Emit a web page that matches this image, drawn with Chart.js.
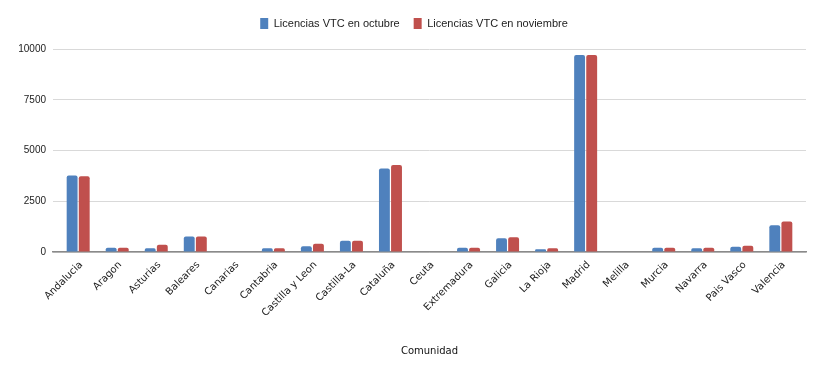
<!DOCTYPE html>
<html>
<head>
<meta charset="utf-8">
<script src="https://cdn.jsdelivr.net/npm/chart.js@4"></script>
<style>
    html, body { margin: 0; padding: 0; background: #ffffff; }
    #wrap { width: 825px; height: 377px; position: relative; }
</style>
</head>
<body>
<div id="wrap"><canvas id="chart"></canvas></div>
<script>
// 데이터
const comunidades = [
    'Andalucia', 'Aragon', 'Asturias', 'Baleares', 'Canarias', 'Cantabria',
    'Castilla y Leon', 'Castilla-La', 'Cataluña', 'Ceuta', 'Extremadura',
    'Galicia', 'La Rioja', 'Madrid', 'Melilla', 'Murcia', 'Navarra',
    'Pais Vasco', 'Valencia'
];
const octubre = [3770, 210, 180, 760, 0, 180, 280, 550, 4110, 0, 210, 680, 130, 9710, 0, 210, 180, 260, 1320];
const noviembre = [3730, 210, 360, 760, 0, 180, 410, 550, 4290, 0, 210, 730, 180, 9710, 0, 210, 210, 310, 1500];
const yTicks = [0, 2500, 5000, 7500, 10000];

const colorBlue = '#4f81bd';
const colorRed = '#c0504d';

// 범례: 아래 여백 추가 + 가로 위치 보정
const legendTweak = {
    id: 'legendTweak',
    beforeInit(chart) {
        const fit = chart.legend.fit;
        chart.legend.fit = function () {
            fit.bind(chart.legend)();
            this.height += 10;
        };
    },
    afterLayout(chart) {
        chart.legend.left += 11;
        chart.legend.right += 11;
    }
};

new Chart(document.getElementById('chart'), {
    type: 'bar',
    data: {
        labels: comunidades,
        datasets: [
            { label: 'Licencias VTC en octubre', data: octubre, backgroundColor: colorBlue, borderRadius: 2, borderSkipped: 'bottom' },
            { label: 'Licencias VTC en noviembre', data: noviembre, backgroundColor: colorRed, borderRadius: 2, borderSkipped: 'bottom' }
        ]
    },
    plugins: [legendTweak],
    options: {
        responsive: true,
        maintainAspectRatio: false,
        animation: false,
        datasets: { bar: { categoryPercentage: 0.62, barPercentage: 0.9 } },
        layout: { padding: { top: 4, right: 19, left: 0, bottom: 16 } },
        plugins: {
            legend: {
                position: 'top',
                labels: {
                    boxWidth: 8, boxHeight: 11, padding: 14,
                    color: '#222',
                    font: { family: '"Liberation Sans", sans-serif', size: 11 }
                }
            },
            tooltip: { enabled: false }
        },
        scales: {
            x: {
                grid: { display: false, drawTicks: false },
                border: { color: '#8a8a8a', width: 1.5 },
                ticks: {
                    maxRotation: 45, minRotation: 45, autoSkip: false, padding: 7, labelOffset: 3,
                    color: '#222',
                    font: { family: '"DejaVu Sans", sans-serif', size: 10 }
                },
                title: {
                    display: true, text: 'Comunidad', color: '#111',
                    font: { family: '"DejaVu Sans", sans-serif', size: 10 }
                },
                // 양쪽 끝에 약간의 여백
                afterBuildTicks: (scale) => {
                    const e = 0.145;
                    scale._startValue = -0.5 - e;
                    scale._valueRange = comunidades.length + 2 * e;
                },
                afterFit: (scale) => { scale.height = 109; }
            },
            y: {
                min: 0, max: 10000,
                afterBuildTicks: (scale) => { scale.ticks = yTicks.map(v => ({ value: v })); },
                grid: { color: '#d9d9d9', drawTicks: false },
                border: { display: false },
                ticks: {
                    padding: 7, color: '#222',
                    font: { family: '"Liberation Sans", sans-serif', size: 10 },
                    callback: (v) => String(v)
                },
                afterFit: (scale) => { scale.width = 53; }
            }
        }
    }
});
</script>
</body>
</html>
